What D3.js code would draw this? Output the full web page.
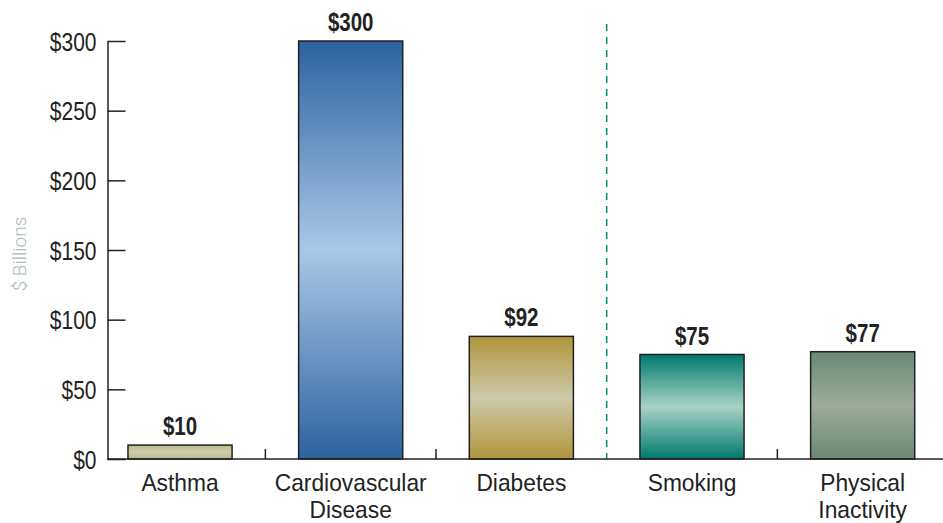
<!DOCTYPE html>
<html>
<head>
<meta charset="utf-8">
<script src="https://cdn.jsdelivr.net/npm/d3@7"></script>
<style>
  body { margin: 0; background: #fff; }
  text { font-family: "Liberation Sans", Arial, sans-serif; }
</style>
</head>
<body>
<div id="chart"></div>
<script>
let categories = ["Asthma", "Cardiovascular|Disease", "Diabetes", "Smoking", "Physical|Inactivity"];
let values = [10, 300, 88, 75, 77];
let valueLabels = ["$10", "$300", "$92", "$75", "$77"];
let yTicks = [0, 50, 100, 150, 200, 250, 300];
// edge, middle colour of each bar's vertical gradient
let barColors = [
  ["#bbb88e", "#d0ceac"],
  ["#2c62a0", "#a8c8e8"],
  ["#b0953c", "#cdcaa8"],
  ["#007a6c", "#a8d2c6"],
  ["#6c8874", "#9cab9c"]
];

let width = 943, height = 523;
let narrow = 0.84; // the original type is a condensed face

let svg = d3.select("#chart")
    .append("svg")
    .attr("width", width)
    .attr("height", height);

let x = d3.scaleBand()
    .domain(categories)
    .range([94.7, 948])
    .paddingInner(0.39)
    .paddingOuter(0.195);

let y = d3.scaleLinear()
    .domain([0, 300])
    .range([459, 41]);

let defs = svg.append("defs");
barColors.forEach(function(c, i) {
  let g = defs.append("linearGradient")
      .attr("id", "grad" + i)
      .attr("x1", 0).attr("y1", 0).attr("x2", 0).attr("y2", 1);
  g.append("stop").attr("offset", "0%").attr("stop-color", c[0]);
  g.append("stop").attr("offset", "50%").attr("stop-color", c[1]);
  g.append("stop").attr("offset", "100%").attr("stop-color", c[0]);
});

// y axis, ticks pointing inward
let yAxis = svg.append("g")
    .attr("transform", "translate(107.5,0)")
    .call(d3.axisLeft(y)
        .tickValues(yTicks)
        .tickSizeInner(-18)
        .tickSizeOuter(0)
        .tickPadding(11)
        .tickFormat(function(d) { return "$" + d; }));
yAxis.select(".domain").attr("stroke", "#222").attr("stroke-width", 1.5);
yAxis.selectAll(".tick line").attr("stroke", "#222").attr("stroke-width", 1.5);
yAxis.selectAll(".tick text")
    .attr("fill", "#222")
    .style("font-size", "25px")
    .attr("x", -11 / narrow)
    .attr("dy", "0.36em")
    .attr("transform", "scale(" + narrow + ",1)");

svg.append("text")
    .attr("transform", "translate(26,254) rotate(-90)")
    .attr("text-anchor", "middle")
    .style("font-family", "Roboto, 'Liberation Sans', sans-serif")
    .style("font-weight", 300)
    .style("font-size", "19px")
    .attr("fill", "#a9bdb3")
    .text("$ Billions");

// separator between diseases and risk factors
let step = x.step();
let sepX = x(categories[3]) - (step - x.bandwidth()) / 2;
svg.append("line")
    .attr("x1", sepX).attr("x2", sepX)
    .attr("y1", 24).attr("y2", y(0))
    .attr("stroke", "#00897a")
    .attr("stroke-width", 1.5)
    .attr("stroke-dasharray", "7,6");

// bars
svg.selectAll(".bar")
    .data(values)
    .enter().append("rect")
    .attr("class", "bar")
    .attr("x", function(d, i) { return x(categories[i]); })
    .attr("y", function(d) { return y(d); })
    .attr("width", x.bandwidth())
    .attr("height", function(d) { return y(0) - y(d); })
    .attr("fill", function(d, i) { return "url(#grad" + i + ")"; })
    .attr("stroke", "#222")
    .attr("stroke-width", 1.5);

svg.selectAll(".val")
    .data(values)
    .enter().append("text")
    .attr("class", "val")
    .attr("transform", function(d, i) {
      return "translate(" + (x(categories[i]) + x.bandwidth() / 2) + "," + (y(d) - 10) + ") scale(0.82,1)";
    })
    .attr("text-anchor", "middle")
    .style("font-size", "25px")
    .style("font-weight", "bold")
    .attr("fill", "#222")
    .text(function(d, i) { return valueLabels[i]; });

// x axis
svg.append("line")
    .attr("x1", 107.5).attr("x2", width)
    .attr("y1", y(0)).attr("y2", y(0))
    .attr("stroke", "#222")
    .attr("stroke-width", 1.5);

let boundaries = [1, 2, 4].map(function(i) {
  return x(categories[i]) - (step - x.bandwidth()) / 2;
});
svg.selectAll(".xtick")
    .data(boundaries)
    .enter().append("line")
    .attr("class", "xtick")
    .attr("x1", function(d) { return d; })
    .attr("x2", function(d) { return d; })
    .attr("y1", y(0) - 10)
    .attr("y2", y(0))
    .attr("stroke", "#222")
    .attr("stroke-width", 1.5);

let labels = svg.selectAll(".cat")
    .data(categories)
    .enter().append("text")
    .attr("class", "cat")
    .attr("transform", function(d) {
      return "translate(" + (x(d) + x.bandwidth() / 2) + ",491) scale(0.95,1)";
    })
    .attr("text-anchor", "middle")
    .style("font-size", "24px")
    .attr("fill", "#222");

labels.selectAll("tspan")
    .data(function(d) { return d.split("|"); })
    .enter().append("tspan")
    .attr("x", 0)
    .attr("dy", function(d, i) { return i === 0 ? 0 : 27; })
    .text(function(d) { return d; });
</script>
</body>
</html>
